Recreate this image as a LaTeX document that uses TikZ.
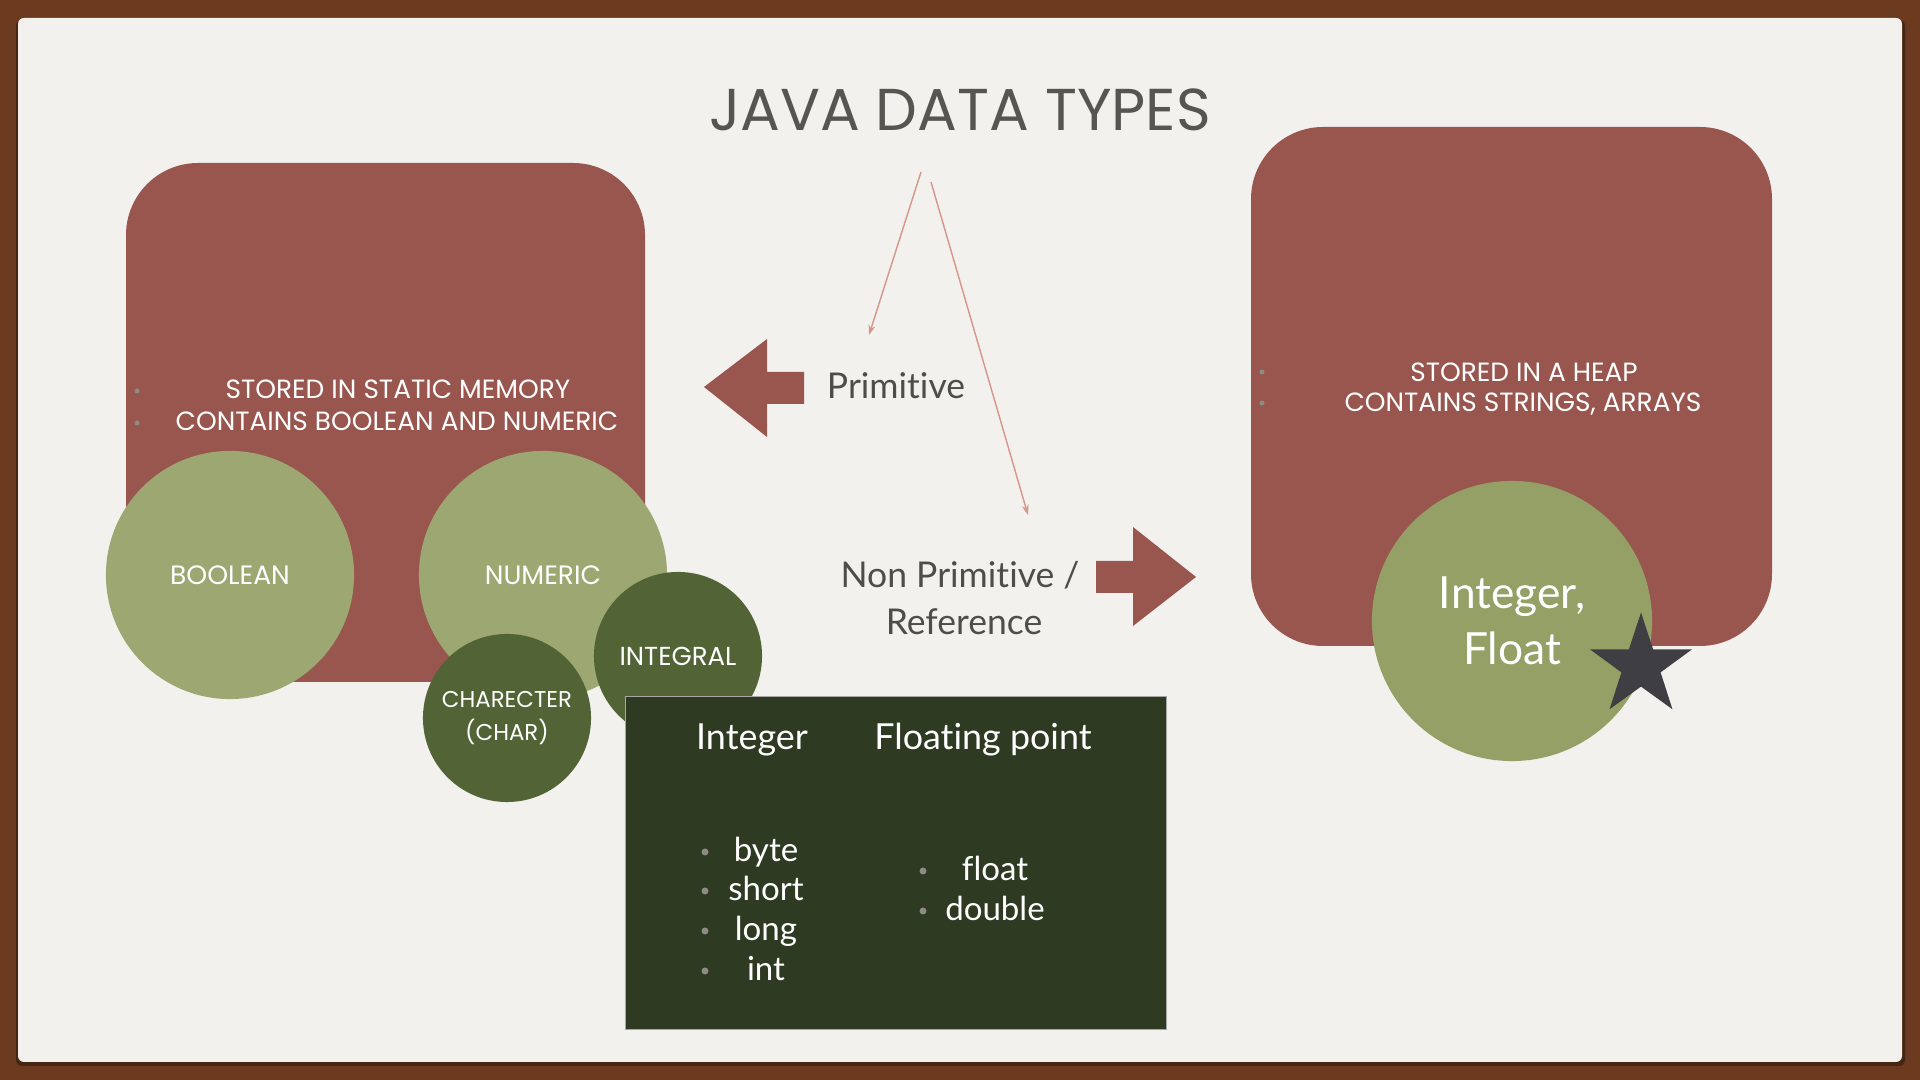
\documentclass[tikz,border=0pt]{standalone}
\usepackage{fontspec}
\setmainfont{Lato}[Ligatures=NoCommon]
\newfontfamily\capsfont{Poppins}
\usetikzlibrary{arrows.meta,shapes.geometric}

\tikzset{
  redbox/.style={fill=boxfill, rounded corners=0.72cm},
  bigcircle/.style={circle, fill=c0fill, text=white, minimum size=2.48cm, inner sep=0pt, align=center, font=\capsfont\fontsize{7.55}{10}\selectfont},
  smallcircle/.style={circle, fill=c1fill, text=white, minimum size=1.68cm, inner sep=0pt, align=center, font=\capsfont\fontsize{6.5}{9.6}\selectfont},
  capstext/.style={anchor=base, text=white, inner sep=0pt, font=\capsfont\fontsize{7.5}{9}\selectfont},
  graytext/.style={anchor=base, text=labeltext, inner sep=0pt, font=\fontsize{10.1}{12}\selectfont},
  itemtext/.style={anchor=base, text=white, inner sep=0pt, font=\fontsize{9.4}{12}\selectfont},
  dot/.style={circle, fill=dotgray, inner sep=0pt, minimum size=#1},
  pointer/.style={draw=pointerdraw, line width=0.4pt, -{Stealth[length=0.1cm,width=0.07cm]}},
}

\begin{document}
\begin{tikzpicture}[x=0.01cm,y=-0.01cm]
%Define all colors here.

\definecolor{framefill}{RGB}{108,58,30}
\definecolor{cardfill}{RGB}{242,241,238}
\definecolor{boxfill}{RGB}{152,86,79}
\definecolor{c0fill}{RGB}{156,167,114}
\definecolor{c1fill}{RGB}{82,100,54}
\definecolor{c2fill}{RGB}{148,160,101}
\definecolor{tablefill}{RGB}{46,58,34}
\definecolor{titletext}{RGB}{86,85,80}
\definecolor{labeltext}{RGB}{78,77,73}
\definecolor{dotgray}{RGB}{142,139,134}
\definecolor{pointerdraw}{RGB}{214,150,138}
\definecolor{stardraw}{RGB}{63,62,66}

% frame and card
\fill[framefill] (0,0) rectangle (1920,1080);
\fill[black, opacity=0.35, rounded corners=0.06cm] (16,20) rectangle (1905,1066);
\fill[cardfill, rounded corners=0.06cm] (18,18) rectangle (1902,1062);
\useasboundingbox (0,0) rectangle (1920,1080);

\node(title) at (960,131) [anchor=base, text=titletext, inner sep=0pt, font=\capsfont\fontsize{16.8}{20}\selectfont] {JAVA DATA TYPES};

% primitive side
\fill[redbox] (126,163) rectangle (645,682);
\node(dotA) at (137,391) [dot=0.05cm] {};
\node(dotB) at (137,423) [dot=0.05cm] {};
\node(static) at (398,399) [capstext] {STORED IN STATIC MEMORY};
\node(contains) at (397,431) [capstext] {CONTAINS BOOLEAN AND NUMERIC};

\node(boolean) at (230,575) [bigcircle] {BOOLEAN};
\node(numeric) at (543,575) [bigcircle] {NUMERIC};
\node(integral) at (678,656) [smallcircle, font=\capsfont\fontsize{7.4}{9.6}\selectfont] {INTEGRAL};
\node(charecter) at (507,718) [smallcircle] {CHARECTER\\(CHAR)};

% table of numeric types
\node(table) at (896,863) [fill=tablefill, draw=gray!70, line width=0.3pt, minimum width=5.4cm, minimum height=3.32cm, inner sep=0pt] {};
\node(integer) at (752,750) [itemtext, font=\fontsize{10.2}{12}\selectfont] {Integer};
\node(floating) at (983,750) [itemtext, font=\fontsize{10.2}{12}\selectfont] {Floating point};

\node(byte) at (766,862) [itemtext] {byte};
\node(short) at (766,901) [itemtext] {short};
\node(long) at (766,941) [itemtext] {long};
\node(int) at (766,981) [itemtext] {int};
\node(float) at (995,881) [itemtext] {float};
\node(double) at (995,921) [itemtext] {double};
\foreach \y in {852,891,931,971} \node at (705,\y) [dot=0.07cm] {};
\foreach \y in {871,911} \node at (923,\y) [dot=0.07cm] {};

% labels and block arrows
\node(primitive) at (896,399) [graytext] {Primitive};
\node(nonprim) at (960,588) [graytext] {Non Primitive /};
\node(reference) at (964,635) [graytext] {Reference};

\fill[boxfill] (704,387) -- (767,339) -- (767,372) -- (804,372) -- (804,404) -- (767,404) -- (767,437) -- cycle;
\fill[boxfill] (1196,577) -- (1133,527) -- (1133,561) -- (1096,561) -- (1096,593) -- (1133,593) -- (1133,626) -- cycle;

\coordinate(p1) at (921,172);
\coordinate(p2) at (869,335);
\coordinate(n1) at (931,182);
\coordinate(n2) at (1028,515);
\draw[pointer] (p1) -- (p2);
\draw[pointer] (n1) -- (n2);

% reference side
\fill[redbox] (1251,127) rectangle (1772,646);
\node(dotC) at (1262,372) [dot=0.05cm] {};
\node(dotD) at (1262,403) [dot=0.05cm] {};
\node(heap) at (1524,382) [capstext] {STORED IN A HEAP};
\node(strings) at (1523,412) [capstext] {CONTAINS STRINGS, ARRAYS};

\node(wrapper) at (1512,621) [circle, fill=c2fill, text=white, minimum size=2.8cm, inner sep=0pt, align=center, font=\fontsize{12.6}{15.9}\selectfont] {Integer,\\Float};
\node(star) at (1641,666) [star, star points=5, star point ratio=2.6, minimum size=1.07cm, inner sep=0pt, fill=stardraw] {};
\end{tikzpicture}
\end{document}
